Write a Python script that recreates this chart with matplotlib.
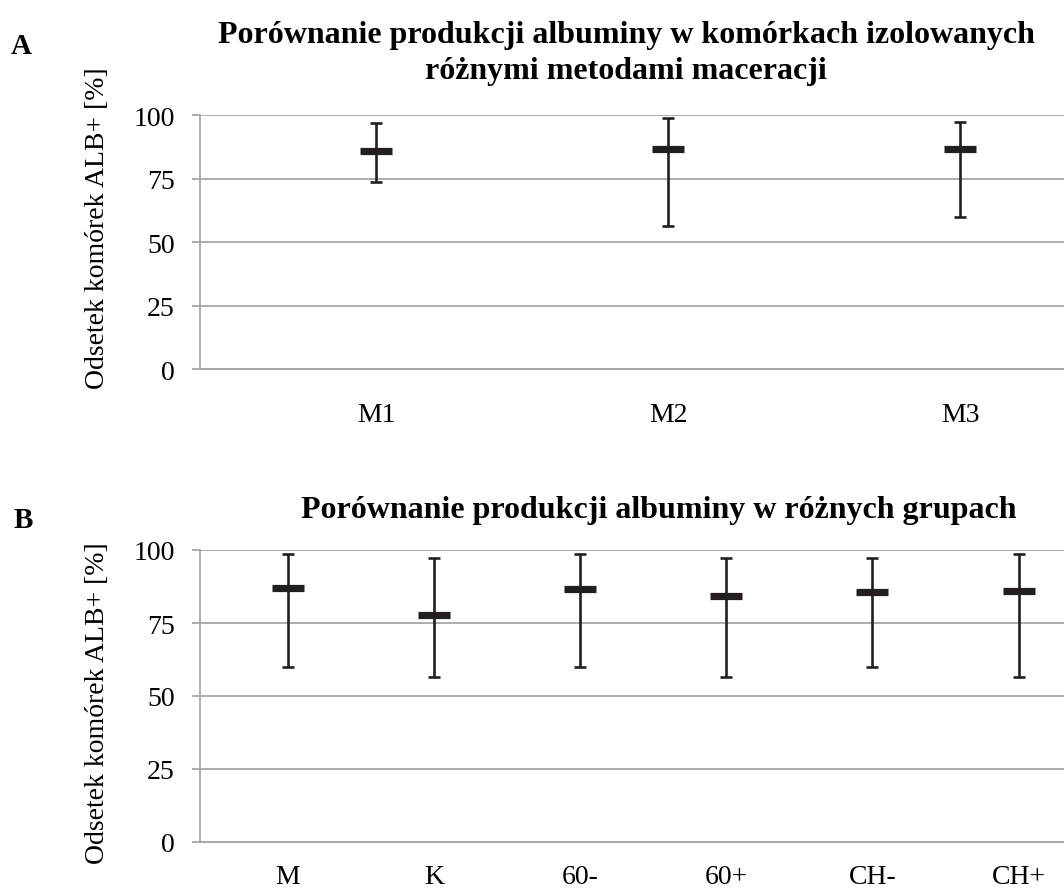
import matplotlib
matplotlib.use("Agg")
import matplotlib.pyplot as plt
import numpy as np

plt.rcParams['font.family'] = ['Liberation Serif', 'DejaVu Serif']

# Panel A data
cats_a = ["M1", "M2", "M3"]
mean_a = [85.7, 86.5, 86.5]
max_a = [97.0, 98.7, 97.4]
min_a = [73.6, 56.3, 59.7]
title_a = "Porównanie produkcji albuminy w komórkach izolowanych\nróżnymi metodami maceracji"

# Panel B data
cats_b = ["M", "K", "60-", "60+", "CH-", "CH+"]
mean_b = [87.1, 77.8, 86.8, 84.2, 85.5, 86.0]
max_b = [98.6, 97.4, 98.6, 97.4, 97.4, 98.6]
min_b = [60.0, 56.6, 60.0, 56.6, 60.0, 56.6]
title_b = "Porównanie produkcji albuminy w różnych grupach"

yticks = [0, 25, 50, 75, 100]
ylabel = "Odsetek komórek ALB+ [%]"

W, H = 1064, 895
fig = plt.figure(figsize=(W / 100, H / 100), dpi=100)

grid_c = "#a6a6a6"
bar_c = "#231f20"

def setup(ax, cats, means, maxs, mins, xlim, title, title_x, title_pad, label_y, xpad):
    x = np.arange(len(cats))
    means = np.array(means)
    lower = means - np.array(mins)
    upper = np.array(maxs) - means
    ax.errorbar(x, means, yerr=[lower, upper], fmt='none', ecolor=bar_c,
                elinewidth=1.9, capsize=4.5, capthick=1.9, clip_on=False, zorder=3)
    ax.plot(x, means, linestyle='none', marker='_', markersize=22.5,
            markeredgewidth=5.2, color=bar_c, clip_on=False, zorder=4)
    ax.set_xlim(*xlim)
    ax.set_ylim(0, 100)
    ax.set_yticks(yticks)
    ax.set_xticks(x)
    ax.set_xticklabels(cats)
    ax.yaxis.grid(True, color=grid_c, linewidth=1.3)
    ax.set_axisbelow(True)
    for s in ['top', 'right']:
        ax.spines[s].set_visible(False)
    for s in ['left', 'bottom']:
        ax.spines[s].set_color(grid_c)
        ax.spines[s].set_linewidth(1.3)
    ax.tick_params(axis='y', length=6, width=1.3, color=grid_c, labelsize=20, pad=12)
    ax.tick_params(axis='x', length=0, labelsize=20, pad=xpad)
    ax.set_ylabel(ylabel, fontsize=20)
    ax.yaxis.set_label_coords(-0.104, label_y)
    ax.set_title(title, fontsize=23, fontweight='bold', x=title_x, pad=title_pad,
                 linespacing=1.3)

axA = fig.add_axes([200 / W, (H - 370) / H, 864 / W, 254 / H])
setup(axA, cats_a, mean_a, max_a, min_a, (-0.603, 2.356), title_a, 0.493, 27, 0.56, 24)

axB = fig.add_axes([200 / W, (H - 843) / H, 864 / W, 292 / H])
setup(axB, cats_b, mean_b, max_b, min_b, (-0.6, 5.31), title_b, 0.531, 24, 0.48, 16)

fig.text(21 / W, 1 - 47 / H, "A", fontsize=21, fontweight='bold', ha='center', va='center')
fig.text(23 / W, 1 - 521 / H, "B", fontsize=21, fontweight='bold', ha='center', va='center')

fig.savefig("out.png", dpi=100)
